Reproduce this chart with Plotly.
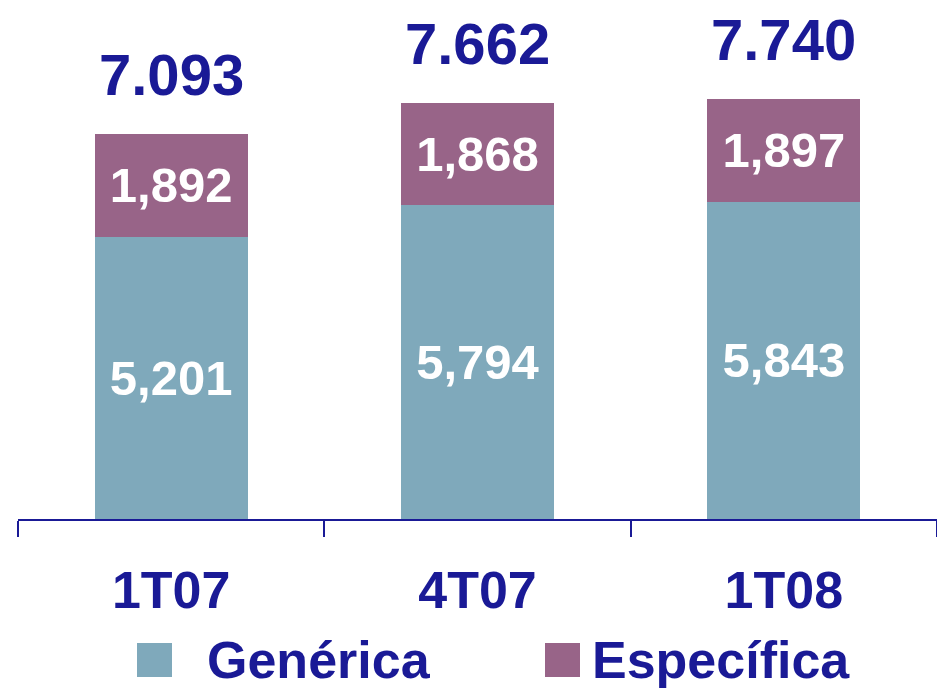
import plotly.graph_objects as go

quarters = ['1T07', '4T07', '1T08']
generica = [5201, 5794, 5843]
especifica = [1892, 1868, 1897]
totals = [g + e for g, e in zip(generica, especifica)]
total_labels = [f'{t:,}'.replace(',', '.') for t in totals]

teal = '#7fa9bb'
purple = '#986488'
navy = '#1a1a96'
font_family = 'Liberation Sans, Arial, sans-serif'

fig = go.Figure()
fig.add_trace(go.Bar(x=quarters, y=generica, name='Genérica', marker_color=teal,
                     marker_line_width=0,
                     texttemplate='<b>%{y:,}</b>', textposition='inside',
                     insidetextanchor='middle',
                     textfont=dict(size=49, color='white', family=font_family)))
fig.add_trace(go.Bar(x=quarters, y=especifica, name='Específica', marker_color=purple,
                     marker_line_width=0,
                     texttemplate='<b>%{y:,}</b>', textposition='inside',
                     insidetextanchor='middle',
                     textfont=dict(size=49, color='white', family=font_family)))

# totals above the stacks
for q, t, lbl in zip(quarters, totals, total_labels):
    fig.add_annotation(x=q, y=t, text=f'<b>{lbl}</b>', showarrow=False,
                       yanchor='bottom', yshift=25,
                       font=dict(size=58, color=navy, family=font_family))

# legend drawn by hand so the swatches can be big
def px_x(x):
    return (x - 18) / 919

def px_y(y):
    return (519 - y) / 519

for x0, color, label, tx in [(137, teal, 'Genérica', 205), (545, purple, 'Específica', 590)]:
    fig.add_shape(type='rect', xref='paper', yref='paper',
                  x0=px_x(x0), x1=px_x(x0 + 35), y0=px_y(677), y1=px_y(643),
                  fillcolor=color, line_width=0)
    fig.add_annotation(xref='paper', yref='paper', x=px_x(tx), y=px_y(660),
                       xanchor='left', yanchor='middle', showarrow=False,
                       text=f'<b>{label}</b>',
                       font=dict(size=52, color=navy, family=font_family))

fig.update_layout(
    barmode='stack', bargap=0.5, showlegend=False,
    width=937, height=688,
    margin=dict(l=18, r=0, t=0, b=169),
    plot_bgcolor='white', paper_bgcolor='white',
)
fig.update_xaxes(range=[-0.5, 2.5], showline=True, linecolor=navy, linewidth=2,
                 ticks='outside', tickson='boundaries', ticklen=16, tickwidth=2,
                 tickcolor=navy, tickprefix='<b>', ticksuffix='</b>',
                 ticklabelstandoff=25,
                 tickfont=dict(size=52, color=navy, family=font_family))
fig.update_yaxes(range=[0, 519 / 0.05428], visible=False, showgrid=False)

fig.write_html('out.html', config={'displayModeBar': False},
               post_script="document.body.style.margin='0';document.body.style.overflow='hidden';")
